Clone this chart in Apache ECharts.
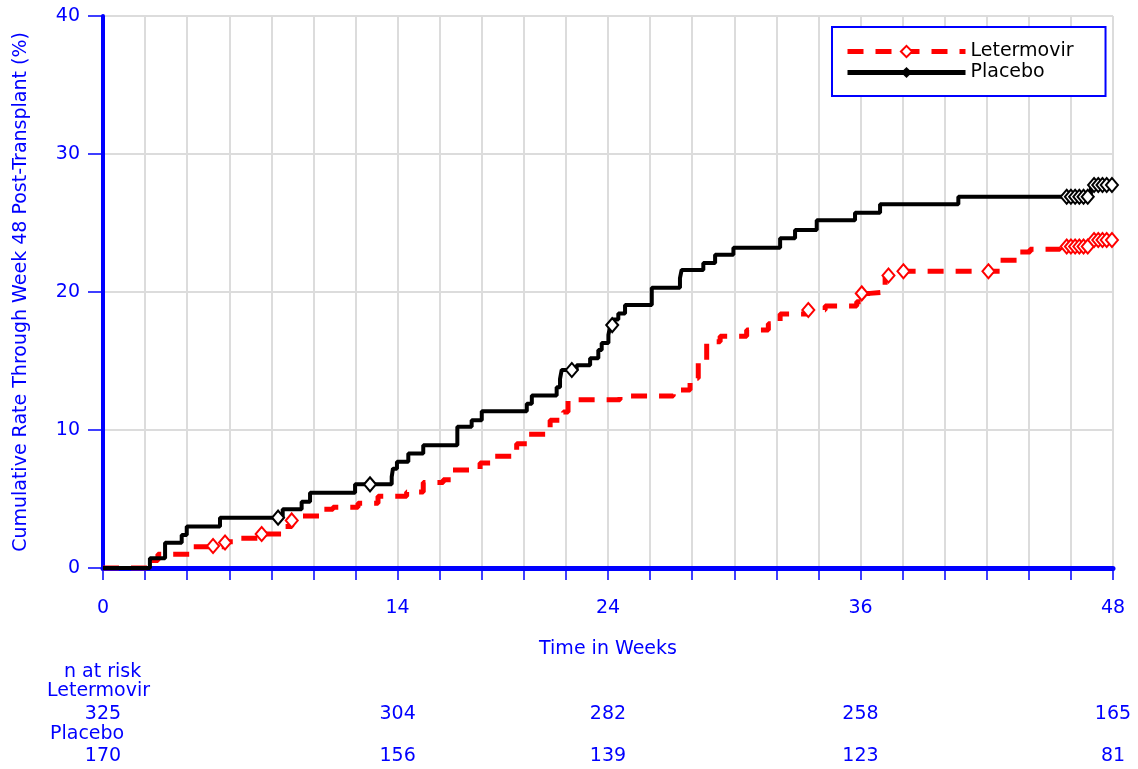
<!DOCTYPE html>
<html><head><meta charset="utf-8">
<script src="https://cdn.jsdelivr.net/npm/echarts@6/dist/echarts.min.js"></script>
<style>html,body{margin:0;padding:0;background:#fff}#c{width:1138px;height:769px}</style>
</head><body><div id="c"></div>
<script>
// ---- data ----
const xTickLabels = [0, 14, 24, 36, 48];
const yTicks = [0, 10, 20, 30, 40];
const riskWeeks = [0, 14, 24, 36, 48];
const riskLetermovir = [325, 304, 282, 258, 165];
const riskPlacebo = [170, 156, 139, 123, 81];

const placeboWeeks = [0, 2.23, 2.95, 3.74, 3.98, 5.56, 8.54, 9.44, 9.84, 11.98, 13.72, 13.78, 13.97, 14.51, 15.22, 16.84, 17.52, 18.0, 20.14, 20.38, 21.56, 21.72, 21.8, 22.51, 23.15, 23.54, 23.7, 24.02, 24.1, 24.25, 24.49, 24.81, 26.08, 27.42, 27.5, 28.53, 29.09, 29.96, 32.18, 32.89, 33.92, 35.74, 36.93, 40.65, 46.95, 48];
const placeboRate  = [0, 0.7, 1.83, 2.4, 3.0, 3.65, 4.25, 4.8, 5.45, 6.06, 6.6, 7.2, 7.7, 8.3, 8.9, 10.24, 10.7, 11.35, 11.9, 12.5, 13.1, 13.7, 14.35, 14.7, 15.2, 15.8, 16.3, 16.9, 17.5, 18.0, 18.45, 19.06, 20.3, 21.0, 21.6, 22.1, 22.7, 23.2, 23.9, 24.5, 25.2, 25.75, 26.35, 26.9, 27.75, 27.75];

const letWeeks = [0, 2.33, 2.61, 4.2, 5.8, 6.5, 7.54, 8.57, 8.97, 9.5, 10.31, 10.93, 12.12, 13.07, 14.43, 15.22, 16.17, 16.63, 17.92, 18.54, 19.66, 20.15, 21.25, 21.88, 22.1, 24.57, 27.1, 27.9, 28.29, 28.69, 29.33, 30.59, 31.62, 32.18, 33.52, 34.32, 35.82, 36.06, 36.45, 37.17, 38.04, 42.63, 43.58, 44.06, 45.48, 47.05, 48];
const letRate  = [0, 0.55, 1.0, 1.54, 1.9, 2.15, 2.46, 3.0, 3.45, 3.77, 4.25, 4.4, 4.7, 5.2, 5.5, 6.2, 6.4, 7.1, 7.6, 8.1, 9.0, 9.7, 10.7, 11.3, 12.2, 12.46, 12.9, 13.75, 14.95, 16.4, 16.8, 17.25, 17.7, 18.4, 18.7, 18.98, 19.3, 19.9, 20.0, 21.16, 21.5, 22.3, 22.9, 23.1, 23.3, 23.77, 23.77];

const placeboCensorWeeks = [8.32, 12.69, 22.28, 24.2, 45.8, 46.0, 46.2, 46.4, 46.6, 46.8, 47.1, 47.3, 47.5, 47.7, 47.95];
const placeboCensorRate  = [3.65, 6.06, 14.35, 17.6, 26.9, 26.9, 26.9, 26.9, 26.9, 26.9, 27.75, 27.75, 27.75, 27.75, 27.75];
const letCensorWeeks = [5.23, 5.8, 7.54, 8.97, 33.52, 36.06, 37.33, 38.04, 42.08, 45.8, 46.0, 46.2, 46.4, 46.6, 46.8, 47.1, 47.3, 47.5, 47.7, 47.95];
const letCensorRate  = [1.6, 1.85, 2.46, 3.45, 18.7, 19.9, 21.2, 21.5, 21.5, 23.3, 23.3, 23.3, 23.3, 23.3, 23.3, 23.77, 23.77, 23.77, 23.77, 23.77];

// ---- chart ----
const FONT = "'DejaVu Sans', sans-serif";
const BLUE = '#0000ff';
const zip = (a, b) => a.map((v, i) => [v, b[i]]);
const chart = echarts.init(document.getElementById('c'), null, {renderer: 'canvas'});

function riskAxis(offset, values) {
  return {
    type: 'value', min: 0, max: 48, interval: 2, position: 'bottom', offset: offset,
    axisLine: {show: false}, axisTick: {show: false}, splitLine: {show: false},
    axisLabel: {
      margin: 0, verticalAlign: 'middle', color: BLUE, fontFamily: FONT, fontSize: 19,
      formatter: v => { const i = riskWeeks.indexOf(v); return i >= 0 ? String(values[i]) : ''; }
    }
  };
}

chart.setOption({
  animation: false,
  backgroundColor: '#fff',
  grid: {left: 103, right: 25, top: 16, bottom: 201, containLabel: false},
  xAxis: [{
    type: 'value', min: 0, max: 48, interval: 2,
    name: 'Time in Weeks', nameLocation: 'middle', nameGap: 72,
    nameTextStyle: {color: BLUE, fontFamily: FONT, fontSize: 19},
    axisLine: {lineStyle: {color: BLUE, width: 5}},
    axisTick: {length: 12, lineStyle: {color: BLUE, width: 1.5}},
    splitLine: {show: true, lineStyle: {color: '#dcdcdc', width: 2}},
    axisLabel: {
      margin: 31, color: BLUE, fontFamily: FONT, fontSize: 19,
      formatter: v => xTickLabels.indexOf(v) >= 0 ? String(v) : ''
    }
  },
  riskAxis(146, riskLetermovir),
  riskAxis(188, riskPlacebo)
  ],
  yAxis: {
    type: 'value', min: 0, max: 40, interval: 10,
    name: 'Cumulative Rate Through Week 48 Post-Transplant (%)',
    nameLocation: 'middle', nameGap: 72,
    nameTextStyle: {color: BLUE, fontFamily: FONT, fontSize: 19},
    axisLine: {show: true, lineStyle: {color: BLUE, width: 4}},
    axisTick: {show: true, length: 15, lineStyle: {color: BLUE, width: 1.5}},
    splitLine: {show: true, lineStyle: {color: '#dcdcdc', width: 2}},
    axisLabel: {margin: 23, color: BLUE, fontFamily: FONT, fontSize: 19,
      formatter: v => yTicks.indexOf(v) >= 0 ? String(v) : ''}
  },
  legend: {
    data: ['Letermovir', 'Placebo'],
    orient: 'vertical', left: 832, top: 27,
    padding: [15, 32, 14, 13],
    itemWidth: 118, itemHeight: 14, itemGap: 2,
    borderColor: BLUE, borderWidth: 2, backgroundColor: '#fff',
    textStyle: {fontFamily: FONT, fontSize: 19, color: '#000'},
    lineStyle: {width: 5},
    selectedMode: false
  },
  series: [
    {
      name: 'Letermovir', type: 'line', step: 'end', symbol: 'emptyDiamond', symbolSize: 7, showSymbol: false,
      data: zip(letWeeks, letRate),
      lineStyle: {color: '#ff0000', width: 5, type: [16, 12]},
      itemStyle: {color: '#ff0000'}, z: 3
    },
    {
      name: 'Placebo', type: 'line', step: 'end', symbol: 'diamond', symbolSize: 5, showSymbol: false,
      data: zip(placeboWeeks, placeboRate),
      lineStyle: {color: '#000', width: 4},
      itemStyle: {color: '#000'}, z: 4
    },
    {
      name: 'Letermovir censored', type: 'scatter', symbol: 'emptyDiamond', symbolSize: [12, 14],
      data: zip(letCensorWeeks, letCensorRate),
      itemStyle: {color: '#ff0000', borderColor: '#ff0000', borderWidth: 2, opacity: 1}, z: 5
    },
    {
      name: 'Placebo censored', type: 'scatter', symbol: 'emptyDiamond', symbolSize: [12, 14],
      data: zip(placeboCensorWeeks, placeboCensorRate),
      itemStyle: {color: '#000', borderColor: '#000', borderWidth: 2, opacity: 1}, z: 6
    }
  ],
  graphic: [
    {type: 'text', left: 64, top: 663, style: {text: 'n at risk', fill: BLUE, font: '19px ' + FONT}},
    {type: 'text', left: 47, top: 682, style: {text: 'Letermovir', fill: BLUE, font: '19px ' + FONT}},
    {type: 'text', left: 50, top: 725, style: {text: 'Placebo', fill: BLUE, font: '19px ' + FONT}}
  ]
});
</script></body></html>
